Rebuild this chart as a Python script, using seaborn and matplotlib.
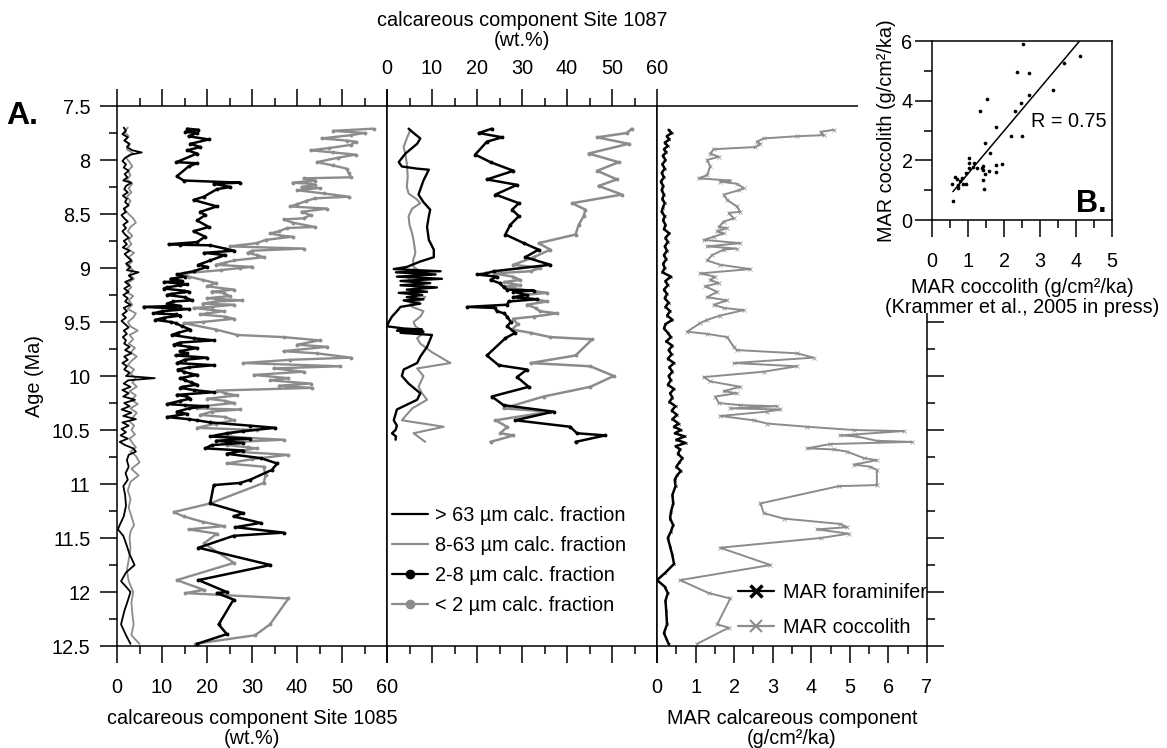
import numpy as np
import matplotlib
matplotlib.use("Agg")
import matplotlib.pyplot as plt
from matplotlib.lines import Line2D
from matplotlib.patches import Rectangle
from matplotlib.ticker import MultipleLocator, FuncFormatter
import seaborn as sns

sns.set_style("ticks")
plt.rcParams['font.family'] = ['Liberation Sans', 'DejaVu Sans']
plt.rcParams['font.size'] = 14
for key in ('text.color', 'axes.labelcolor', 'xtick.color', 'ytick.color', 'axes.edgecolor'):
    plt.rcParams[key] = 'black'

GREY = '#8c8c8c'

# ---- Site 1085 (age Ma, wt.%) ----
s1085_gt63 = [(7.70,1.5),(7.73,2.0),(7.76,1.2),(7.79,2.4),(7.82,1.6),(7.85,2.8),(7.88,2.2),(7.91,3.4),(7.93,5.5),(7.95,3.0),
    (7.98,1.8),(8.01,1.2),(8.04,2.0),(8.07,1.5),(8.10,2.6),(8.13,1.7),(8.16,2.3),(8.19,1.4),(8.21,3.2),(8.24,2.0),(8.27,1.6),
    (8.30,2.4),(8.33,1.3),(8.36,2.2),(8.39,1.8),(8.42,2.6),(8.45,1.5),(8.48,2.0),(8.51,1.0),(8.54,1.6),(8.57,2.4),(8.60,1.4),
    (8.63,2.0),(8.66,1.2),(8.69,1.8),(8.72,2.6),(8.75,1.5),(8.78,2.2),(8.81,1.3),(8.84,2.8),(8.87,1.7),(8.90,2.4),(8.93,3.2),
    (8.96,2.0),(8.99,3.0),(9.02,2.2),(9.04,4.8),(9.07,2.6),(9.10,3.4),(9.13,1.8),(9.16,2.8),(9.19,1.6),(9.22,2.6),(9.25,1.4),
    (9.28,2.4),(9.31,1.8),(9.34,3.0),(9.37,1.5),(9.40,2.2),(9.43,1.2),(9.46,2.0),(9.49,1.0),(9.52,1.8),(9.55,2.6),(9.58,1.5),
    (9.61,2.2),(9.64,1.3),(9.67,2.0),(9.70,1.6),(9.73,2.8),(9.76,1.8),(9.79,3.2),(9.82,1.6),(9.85,2.4),(9.88,1.2),(9.91,2.2),
    (9.94,1.6),(9.97,2.8),(10.00,2.0),(10.02,8.4),(10.04,2.5),(10.07,1.5),(10.10,3.0),(10.13,1.2),(10.16,2.6),(10.19,1.4),
    (10.22,4.0),(10.25,1.6),(10.28,2.8),(10.31,1.0),(10.34,3.2),(10.37,1.4),(10.40,4.2),(10.43,1.2),(10.46,2.6),(10.49,1.0),
    (10.52,2.0),(10.55,0.8),(10.58,2.4),(10.61,0.6),(10.64,1.8),(10.67,3.6),(10.70,4.2),(10.73,2.6),(10.78,2.2),(10.84,2.6),
    (10.90,1.9),(10.96,2.4),(11.02,1.4),(11.10,1.8),(11.20,2.0),(11.30,1.5),(11.38,0.6),(11.42,0.2),(11.48,1.4),(11.55,2.0),
    (11.65,2.8),(11.75,3.9),(11.82,2.0),(11.90,0.9),(11.96,2.2),(12.00,3.0),(12.08,2.4),(12.18,1.6),(12.30,0.9),(12.40,2.0),
    (12.48,3.0)]
s1085_8_63 = [(7.70,2.4),(7.74,1.6),(7.78,2.6),(7.82,1.8),(7.86,2.8),(7.90,2.2),(7.94,3.6),(7.98,2.0),(8.02,2.8),(8.06,3.4),
    (8.10,2.4),(8.14,3.0),(8.18,2.2),(8.22,3.4),(8.26,2.6),(8.30,3.2),(8.34,2.2),(8.38,3.0),(8.42,2.4),(8.46,1.6),(8.50,2.6),
    (8.54,3.6),(8.58,4.2),(8.62,3.0),(8.66,2.4),(8.70,3.4),(8.74,2.6),(8.78,3.2),(8.82,2.2),(8.86,3.8),(8.90,2.6),(8.94,3.4),
    (8.98,2.2),(9.02,3.6),(9.06,2.8),(9.10,3.8),(9.14,2.4),(9.18,3.2),(9.22,2.0),(9.26,3.6),(9.30,2.6),(9.34,3.4),(9.38,2.4),
    (9.42,4.2),(9.46,3.6),(9.50,2.4),(9.54,3.0),(9.58,4.6),(9.62,2.8),(9.66,3.6),(9.70,2.6),(9.74,4.0),(9.78,3.0),(9.82,4.4),
    (9.86,3.2),(9.90,2.4),(9.94,3.8),(9.98,3.0),(10.02,4.2),(10.06,3.4),(10.10,4.4),(10.14,2.8),(10.18,4.2),(10.22,3.2),
    (10.26,4.6),(10.30,3.0),(10.34,4.4),(10.38,3.6),(10.42,2.8),(10.46,3.8),(10.50,3.2),(10.54,4.0),(10.58,2.8),(10.62,3.4),
    (10.66,4.2),(10.70,3.0),(10.74,4.2),(10.80,5.0),(10.86,3.2),(10.92,4.8),(10.98,3.0),(11.06,2.4),(11.14,3.0),(11.22,2.6),
    (11.30,3.2),(11.38,3.8),(11.44,3.0),(11.50,2.8),(11.60,3.0),(11.70,2.6),(11.80,2.2),(11.90,2.6),(12.00,3.6),(12.10,3.2),
    (12.20,3.4),(12.30,3.7),(12.40,3.2),(12.48,5.0)]
s1085_2_8 = [(7.71,15.6),(7.72,18.1),(7.74,15.2),(7.75,17.8),(7.78,15.9),(7.81,20.4),(7.85,16.3),(7.88,18.5),(7.91,15.6),
    (7.94,17.8),(8.02,13.2),(8.03,17.8),(8.06,15.9),(8.15,13.3),(8.19,14.8),(8.21,27.4),(8.22,21.5),(8.25,25.2),(8.27,22.2),
    (8.34,19.3),(8.37,17.0),(8.43,22.2),(8.48,18.5),(8.51,19.6),(8.56,17.8),(8.62,20.4),(8.66,17.0),(8.71,19.6),(8.76,17.8),
    (8.78,11.5),(8.785,14.1),(8.79,20.7),(8.82,24.0),(8.84,26.0),(8.86,19.3),(8.88,24.0),(8.93,20.7),(8.97,18.1),(8.99,20.0),
    (9.03,17.0),(9.06,13.3),(9.08,15.0),(9.10,11.9),(9.12,14.5),(9.13,10.4),(9.15,15.5),(9.16,14.1),(9.18,11.0),(9.19,10.4),
    (9.21,14.8),(9.22,15.9),(9.24,12.0),(9.25,11.1),(9.27,15.0),(9.30,16.7),(9.31,12.5),(9.33,11.1),(9.35,14.0),(9.36,5.9),
    (9.38,15.9),(9.40,10.0),(9.42,8.1),(9.43,13.0),(9.44,14.1),(9.46,10.5),(9.48,8.5),(9.50,12.0),(9.51,13.0),(9.54,14.5),
    (9.57,16.3),(9.60,13.5),(9.62,12.2),(9.65,17.0),(9.67,21.5),(9.69,14.0),(9.71,12.6),(9.73,16.0),(9.74,17.8),(9.77,14.0),
    (9.79,15.5),(9.81,13.0),(9.83,20.0),(9.85,15.0),(9.88,13.3),(9.90,21.5),(9.92,16.0),(9.94,13.5),(9.96,14.8),(9.98,16.5),
    (9.99,17.8),(10.02,14.0),(10.04,15.2),(10.06,16.5),(10.08,17.8),(10.10,14.5),(10.11,14.1),(10.13,17.0),(10.15,21.5),
    (10.175,13.3),(10.19,15.5),(10.21,16.3),(10.23,14.0),(10.26,11.1),(10.27,15.0),(10.28,20.0),(10.30,16.0),(10.33,13.3),
    (10.35,15.5),(10.38,11.1),(10.40,16.0),(10.41,17.8),(10.43,20.7),(10.46,29.6),(10.48,35.2),(10.51,28.0),(10.53,24.4),
    (10.56,20.7),(10.58,29.6),(10.60,22.0),(10.62,28.0),(10.64,21.0),(10.67,19.6),(10.69,28.0),(10.72,24.4),(10.76,31.9),
    (10.81,35.6),(10.87,34.4),(10.96,29.6),(10.99,27.4),(11.01,21.5),(11.18,20.7),(11.27,28.1),(11.30,25.9),(11.36,31.9),
    (11.40,26.3),(11.45,37.0),(11.48,25.9),(11.59,18.1),(11.75,34.1),(11.89,18.1),(12.00,24.4),(12.01,22.2),(12.07,25.9),
    (12.30,22.6),(12.39,24.4),(12.48,17.8)]
s1085_lt2 = [(7.71,57.0),(7.73,48.0),(7.75,55.0),(7.77,52.0),(7.80,45.5),(7.82,51.0),(7.83,53.0),(7.86,52.0),(7.89,47.0),
    (7.91,43.0),(7.93,48.0),(7.95,53.0),(7.98,49.0),(8.02,44.4),(8.05,48.0),(8.08,51.0),(8.12,51.5),(8.16,52.0),(8.17,41.5),
    (8.19,44.0),(8.21,39.0),(8.22,43.0),(8.23,44.0),(8.25,41.0),(8.26,45.0),(8.28,40.0),(8.31,46.0),(8.34,51.5),(8.355,44.0),
    (8.38,42.0),(8.41,40.0),(8.43,38.5),(8.45,46.7),(8.48,41.0),(8.51,43.0),(8.54,41.5),(8.55,37.0),(8.58,39.0),(8.62,44.0),
    (8.63,37.8),(8.66,36.0),(8.68,34.0),(8.70,36.5),(8.71,39.0),(8.74,33.0),(8.77,31.0),(8.80,25.0),(8.82,41.5),(8.84,30.0),
    (8.86,29.0),(8.88,31.0),(8.90,32.6),(8.93,26.0),(8.95,24.0),(8.97,22.0),(8.99,30.0),(9.00,27.4),(9.02,23.0),(9.05,14.8),
    (9.08,16.0),(9.11,19.0),(9.14,22.0),(9.17,20.0),(9.20,26.0),(9.22,21.0),(9.23,23.7),(9.26,25.0),(9.28,20.0),(9.30,27.8),
    (9.31,22.0),(9.33,19.0),(9.34,26.0),(9.36,21.0),(9.37,17.0),(9.40,23.7),(9.42,20.0),(9.43,18.5),(9.45,24.0),(9.47,26.0),
    (9.50,19.0),(9.51,14.8),(9.57,22.0),(9.62,26.7),(9.64,37.0),(9.67,45.0),(9.71,40.0),(9.73,46.7),(9.77,37.0),(9.79,44.4),
    (9.83,52.0),(9.85,38.5),(9.88,28.0),(9.91,49.6),(9.93,34.8),(9.96,41.5),(9.99,30.4),(10.02,38.0),(10.04,34.0),(10.07,43.0),
    (10.09,36.0),(10.11,43.3),(10.135,22.2),(10.16,24.0),(10.18,26.7),(10.21,20.0),(10.23,24.0),(10.25,26.0),(10.28,19.0),
    (10.30,17.8),(10.31,27.4),(10.33,21.0),(10.36,18.5),(10.38,24.0),(10.41,26.0),(10.44,22.0),(10.48,17.8),(10.50,31.0),
    (10.53,25.0),(10.55,22.2),(10.57,28.0),(10.59,37.0),(10.61,27.0),(10.64,24.4),(10.66,29.0),(10.67,31.0),(10.70,26.0),
    (10.73,38.0),(10.77,30.0),(10.81,24.4),(10.84,32.6),(10.92,33.0),(10.99,32.6),(11.18,20.7),(11.26,12.6),(11.30,14.8),
    (11.35,19.0),(11.39,23.7),(11.42,15.9),(11.46,22.2),(11.55,19.3),(11.73,26.0),(11.89,13.3),(11.98,19.3),(12.01,15.2),
    (12.06,38.1),(12.30,34.0),(12.40,30.7),(12.48,17.4)]

# ---- Site 1087 (age Ma, wt.%) ----
s1087_gt63 = [(7.71,4.8),(7.75,5.9),(7.80,7.4),(7.85,6.7),(7.94,4.1),(8.02,2.6),(8.06,3.3),(8.08,6.7),(8.09,9.3),(8.19,8.1),
    (8.32,7.0),(8.39,8.1),(8.46,9.6),(8.52,9.3),(8.62,8.9),(8.74,9.3),(8.83,10.4),(8.90,10.4),(8.94,7.4),(8.99,4.4),(9.01,1.5),
    (9.03,11.9),(9.04,2.0),(9.06,10.8),(9.08,2.2),(9.10,12.2),(9.12,3.0),(9.14,9.6),(9.16,3.0),(9.18,11.1),(9.20,4.4),
    (9.22,8.9),(9.23,2.6),(9.25,7.8),(9.27,4.4),(9.29,8.1),(9.30,3.7),(9.33,7.4),(9.36,3.0),(9.40,2.2),(9.45,1.1),(9.50,0.4),
    (9.54,0.0),(9.56,3.7),(9.57,7.8),(9.58,2.2),(9.59,8.1),(9.60,3.0),(9.62,10.0),(9.73,8.9),(9.82,7.4),(9.88,6.7),(9.94,3.7),
    (10.00,3.3),(10.07,4.8),(10.16,7.4),(10.22,6.7),(10.31,2.2),(10.41,1.5),(10.46,2.2),(10.50,1.9),(10.53,1.1),(10.56,2.0),
    (10.59,1.9)]
s1087_8_63 = [(7.72,5.2),(7.80,4.4),(7.88,3.7),(7.95,4.1),(8.03,4.4),(8.15,4.6),(8.25,4.4),(8.31,4.8),(8.36,6.5),(8.40,7.4),
    (8.45,5.6),(8.52,4.8),(8.60,5.0),(8.68,5.6),(8.77,6.0),(8.86,6.3),(8.93,5.8),(8.99,5.9),(9.03,7.4),(9.05,8.9),(9.08,4.4),
    (9.11,5.2),(9.14,7.4),(9.16,8.1),(9.20,5.2),(9.23,5.9),(9.27,8.5),(9.30,7.4),(9.33,5.2),(9.36,5.6),(9.40,8.1),(9.45,7.4),
    (9.50,5.9),(9.54,6.3),(9.57,7.4),(9.60,8.1),(9.65,6.7),(9.70,7.4),(9.78,10.0),(9.88,14.1),(9.93,6.7),(10.00,8.1),
    (10.10,7.0),(10.16,7.8),(10.22,8.9),(10.30,5.6),(10.41,3.3),(10.47,12.6),(10.53,5.9),(10.61,8.5)]
s1087_2_8 = [(7.71,23.3),(7.75,20.4),(7.79,25.6),(7.83,22.2),(7.95,19.6),(8.02,23.0),(8.10,28.1),(8.18,22.2),(8.23,28.9),
    (8.32,24.1),(8.40,29.3),(8.46,27.8),(8.52,29.3),(8.60,27.4),(8.69,26.3),(8.77,30.4),(8.83,33.7),(8.90,30.7),(8.97,36.3),
    (9.03,23.7),(9.05,22.0),(9.06,20.0),(9.08,24.4),(9.11,23.0),(9.14,25.0),(9.18,26.0),(9.20,26.7),(9.21,32.6),(9.22,28.1),
    (9.25,31.0),(9.27,28.1),(9.29,33.3),(9.31,27.0),(9.34,26.7),(9.36,17.8),(9.37,24.0),(9.40,24.4),(9.42,26.0),(9.45,26.7),
    (9.50,27.5),(9.54,26.7),(9.60,28.5),(9.65,26.3),(9.81,22.2),(9.90,24.8),(9.94,31.1),(10.01,28.9),(10.10,31.5),
    (10.19,23.3),(10.27,25.9),(10.33,37.0),(10.41,28.5),(10.47,40.7),(10.53,42.2),(10.55,48.5),(10.61,41.9)]
s1087_lt2 = [(7.71,54.4),(7.75,53.3),(7.79,46.7),(7.85,53.7),(7.94,44.8),(8.02,51.5),(8.10,46.7),(8.18,51.1),(8.24,47.0),
    (8.32,52.2),(8.40,41.1),(8.46,44.1),(8.52,43.7),(8.60,42.6),(8.69,41.9),(8.77,33.7),(8.83,36.3),(8.90,32.6),(8.97,28.1),
    (9.00,34.1),(9.03,31.9),(9.05,23.7),(9.08,28.0),(9.11,29.6),(9.13,26.0),(9.16,29.6),(9.17,25.9),(9.20,30.0),(9.23,35.6),
    (9.25,30.0),(9.27,28.9),(9.29,33.0),(9.31,35.6),(9.34,31.1),(9.37,33.0),(9.40,34.0),(9.42,37.8),(9.45,32.6),(9.47,28.1),
    (9.52,29.0),(9.57,27.8),(9.60,31.9),(9.64,36.3),(9.66,45.6),(9.81,41.9),(9.88,31.9),(9.91,45.2),(10.00,50.4),(10.10,45.2),
    (10.19,34.8),(10.30,25.9),(10.33,36.3),(10.41,24.1),(10.47,26.7),(10.53,25.2),(10.55,28.1),(10.61,23.0)]

# ---- MAR (age Ma, g/cm2/ka) ----
mar_foram = [(7.72,0.30),(7.75,0.38),(7.78,0.25),(7.81,0.32),(7.84,0.20),(7.87,0.28),(7.90,0.18),(7.93,0.24),(7.96,0.15),
    (8.00,0.22),(8.04,0.14),(8.08,0.20),(8.12,0.12),(8.16,0.18),(8.20,0.10),(8.24,0.16),(8.28,0.12),(8.32,0.18),(8.36,0.14),
    (8.40,0.20),(8.44,0.15),(8.48,0.12),(8.52,0.20),(8.56,0.16),(8.60,0.22),(8.64,0.18),(8.68,0.32),(8.72,0.22),(8.76,0.28),
    (8.80,0.20),(8.84,0.26),(8.88,0.18),(8.92,0.24),(8.96,0.16),(9.00,0.20),(9.04,0.14),(9.08,0.36),(9.12,0.22),(9.16,0.28),
    (9.20,0.18),(9.24,0.26),(9.28,0.20),(9.32,0.30),(9.36,0.22),(9.40,0.34),(9.44,0.26),(9.48,0.40),(9.52,0.22),(9.56,0.18),
    (9.60,0.28),(9.64,0.36),(9.68,0.24),(9.72,0.40),(9.76,0.30),(9.80,0.38),(9.84,0.28),(9.88,0.44),(9.92,0.32),(9.96,0.40),
    (10.00,0.30),(10.04,0.36),(10.08,0.28),(10.12,0.44),(10.16,0.34),(10.20,0.40),(10.24,0.32),(10.28,0.48),(10.32,0.38),
    (10.36,0.52),(10.40,0.40),(10.44,0.56),(10.47,0.44),(10.50,0.62),(10.53,0.46),(10.56,0.72),(10.59,0.50),(10.62,0.74),
    (10.65,0.48),(10.68,0.60),(10.72,0.54),(10.76,0.66),(10.80,0.58),(10.84,0.50),(10.88,0.62),(10.92,0.52),(10.96,0.46),
    (11.02,0.48),(11.10,0.40),(11.18,0.42),(11.26,0.36),(11.32,0.34),(11.38,0.42),(11.44,0.36),(11.50,0.28),(11.58,0.34),
    (11.66,0.40),(11.74,0.44),(11.82,0.22),(11.89,0.00),(11.95,0.20),(12.01,0.28),(12.08,0.22),(12.18,0.24),(12.30,0.26),
    (12.38,0.18),(12.48,0.30)]
mar_cocco = [(7.72,4.58),(7.74,4.24),(7.77,4.32),(7.78,3.63),(7.80,2.77),(7.83,2.59),(7.85,2.68),(7.88,2.55),(7.90,1.47),
    (7.94,1.38),(7.97,1.60),(8.00,1.30),(8.06,1.38),(8.14,1.30),(8.17,1.08),(8.19,1.90),(8.20,1.64),(8.22,2.07),(8.26,2.25),
    (8.28,2.12),(8.32,1.73),(8.37,1.82),(8.43,2.07),(8.48,2.16),(8.49,1.86),(8.54,1.99),(8.57,1.73),(8.62,1.60),(8.63,1.82),
    (8.66,1.56),(8.68,1.73),(8.71,1.47),(8.74,1.21),(8.77,2.16),(8.80,1.30),(8.82,2.07),(8.83,1.73),(8.88,1.43),(8.93,1.30),
    (8.97,1.64),(9.01,2.42),(9.05,1.12),(9.08,1.50),(9.11,1.38),(9.14,1.60),(9.17,1.25),(9.22,1.56),(9.27,1.30),(9.30,1.82),
    (9.34,1.47),(9.37,1.73),(9.39,2.25),(9.44,1.64),(9.48,1.30),(9.51,1.12),(9.59,0.78),(9.61,1.30),(9.64,1.82),(9.73,1.99),
    (9.76,2.07),(9.79,3.63),(9.83,4.06),(9.88,1.99),(9.91,3.63),(9.96,2.77),(10.01,1.21),(10.05,1.38),(10.10,2.16),
    (10.14,1.73),(10.16,2.07),(10.19,1.51),(10.25,1.60),(10.27,2.16),(10.28,3.11),(10.30,1.90),(10.31,3.20),(10.33,2.85),
    (10.37,1.64),(10.41,2.51),(10.44,2.85),(10.47,3.89),(10.50,5.10),(10.51,6.40),(10.55,4.75),(10.56,5.19),(10.60,5.70),
    (10.61,6.61),(10.63,4.49),(10.67,3.89),(10.68,4.58),(10.70,4.93),(10.76,5.36),(10.78,5.70),(10.82,5.10),(10.84,5.53),
    (10.87,5.70),(11.01,5.70),(11.02,4.71),(11.18,2.68),(11.27,2.77),(11.32,3.28),(11.37,4.75),(11.40,4.93),(11.42,4.15),
    (11.46,4.97),(11.50,4.24),(11.59,1.64),(11.75,2.94),(11.89,0.60),(12.01,1.34),(12.06,1.90),(12.30,1.56),(12.33,1.86),
    (12.48,1.04)]

# ---- inset B: MAR coccolith (Krammer et al.) vs this study ----
krammer_x = [2.54,4.10,2.37,2.70,3.66,1.52,1.32,2.31,2.48,2.70,3.37,1.78,2.19,2.49,1.47,1.62,1.02,1.02,1.17,1.03,1.24,1.42,
    1.43,1.48,1.42,1.45,1.57,1.79,1.95,1.79,0.94,0.82,0.70,0.64,0.55,0.77,0.73,0.86,0.94,0.73,0.58,1.38,1.14]
this_y = [5.90,5.51,4.96,4.94,5.25,4.07,3.64,3.64,3.93,4.20,4.36,3.11,2.83,2.82,2.59,2.23,2.08,1.90,1.90,1.75,1.75,1.81,
    1.69,1.54,1.34,1.05,1.65,1.84,1.88,1.61,1.56,1.40,1.36,1.45,1.22,1.31,1.16,1.21,1.21,1.06,0.64,1.75,1.79]
fit_x = [0.58, 4.10]
fit_y = [0.95, 6.00]

W, H = 1167, 748
fig = plt.figure(figsize=(W / 100, H / 100), dpi=100)


def box(x0, y0, x1, y1):
    return [x0 / W, 1 - y1 / H, (x1 - x0) / W, (y1 - y0) / H]


def trace(ax, pairs, color, lw, marker=None, ms=0, mew=0):
    a = np.array(pairs)
    sns.lineplot(x=a[:, 1], y=a[:, 0], sort=False, estimator=None, orient='y', ax=ax,
                 color=color, lw=lw, marker=marker, markersize=ms, markeredgewidth=mew,
                 markeredgecolor=color, markerfacecolor=color)


ax1 = fig.add_axes(box(117, 106, 387, 646))
ax2 = fig.add_axes(box(387, 106, 657, 646))
ax3 = fig.add_axes(box(657, 106, 927, 646))

trace(ax1, s1085_8_63, GREY, 1.3)
trace(ax1, s1085_gt63, 'black', 1.3)
trace(ax1, s1085_lt2, GREY, 1.7, 'o', 2.8)
trace(ax1, s1085_2_8, 'black', 1.8, 'o', 2.8)

trace(ax2, s1087_8_63, GREY, 1.5)
trace(ax2, s1087_gt63, 'black', 1.7)
trace(ax2, s1087_lt2, GREY, 1.8, 'o', 2.8)
trace(ax2, s1087_2_8, 'black', 1.8, 'o', 2.8)

trace(ax3, mar_cocco, GREY, 1.4, 'x', 2.2, 0.5)
trace(ax3, mar_foram, 'black', 1.8, 'x', 1.6, 0.5)

fmt = FuncFormatter(lambda v, p: '%g' % v)
for ax in (ax1, ax2, ax3):
    ax.set_ylim(12.5, 7.5)
    ax.set_xlabel('')
    ax.set_ylabel('')
    ax.yaxis.set_major_locator(MultipleLocator(0.5))
    ax.yaxis.set_minor_locator(MultipleLocator(0.25))
    ax.yaxis.set_major_formatter(fmt)
    for s in ax.spines.values():
        s.set_linewidth(1.1)
    ax.tick_params(which='both', direction='out', width=1.1, labelsize=14.3)
    ax.tick_params(which='major', length=12)
    ax.tick_params(which='minor', length=6)

ax1.set_xlim(0, 60)
ax2.set_xlim(0, 60)
ax3.set_xlim(0, 7)
for ax in (ax1, ax2):
    ax.xaxis.set_major_locator(MultipleLocator(10))
    ax.xaxis.set_minor_locator(MultipleLocator(5))
ax3.xaxis.set_major_locator(MultipleLocator(1))
ax3.xaxis.set_minor_locator(MultipleLocator(0.5))

ax1.tick_params(axis='y', which='both', left=True, right=False, labelleft=True, pad=7)
ax1.tick_params(axis='x', which='both', bottom=True, top=True, labelbottom=True, labeltop=False, pad=11)
ax2.tick_params(axis='y', which='both', left=False, right=False, labelleft=False)
ax2.tick_params(axis='x', which='both', bottom=True, top=True, labelbottom=False, labeltop=True, pad=8)
ax3.tick_params(axis='y', which='both', left=False, right=True, labelleft=False, labelright=False)
ax3.tick_params(axis='x', which='both', bottom=True, top=False, labelbottom=True, labeltop=False, pad=11)

TXT = 14.3
fig.text(35 / W, 1 - 376 / H, 'Age (Ma)', rotation=90, ha='center', va='center', fontsize=TXT)
fig.text(22 / W, 1 - 116 / H, 'A.', ha='center', va='center', fontsize=23, fontweight='bold')
fig.text(252 / W, 1 - 718 / H, 'calcareous component Site 1085', ha='center', va='center', fontsize=TXT)
fig.text(252 / W, 1 - 739 / H, '(wt.%)', ha='center', va='center', fontsize=TXT)
fig.text(522 / W, 1 - 21 / H, 'calcareous component Site 1087', ha='center', va='center', fontsize=TXT)
fig.text(522 / W, 1 - 41 / H, '(wt.%)', ha='center', va='center', fontsize=TXT)
fig.text(792 / W, 1 - 718 / H, 'MAR calcareous component', ha='center', va='center', fontsize=TXT)
fig.text(792 / W, 1 - 739 / H, '(g/cm²/ka)', ha='center', va='center', fontsize=TXT)

frac_handles = [
    Line2D([], [], color='black', lw=1.6),
    Line2D([], [], color=GREY, lw=1.6),
    Line2D([], [], color='black', lw=1.6, marker='o', ms=6),
    Line2D([], [], color=GREY, lw=1.6, marker='o', ms=6),
]
frac_labels = ['> 63 µm calc. fraction', '8-63 µm calc. fraction', '2-8 µm calc. fraction', '< 2 µm calc. fraction']
ax2.legend(frac_handles, frac_labels, loc='upper left', bbox_to_anchor=(392 / W, 1 - 506 / H),
           bbox_transform=fig.transFigure, frameon=False, fontsize=TXT, borderpad=0, borderaxespad=0,
           handlelength=1.8, handletextpad=0.35, labelspacing=0.55)

mar_handles = [
    Line2D([], [], color='black', lw=1.6, marker='x', ms=9, mew=2.5),
    Line2D([], [], color=GREY, lw=1.6, marker='x', ms=9, mew=1.5),
]
ax3.legend(mar_handles, ['MAR foraminifer', 'MAR coccolith'], loc='upper left',
           bbox_to_anchor=(738 / W, 1 - 583 / H), bbox_transform=fig.transFigure, frameon=False,
           fontsize=TXT, borderpad=0, borderaxespad=0, handlelength=1.8, handletextpad=0.45,
           labelspacing=0.8)

# white panel behind the inset hides the corner of the MAR frame
fig.add_artist(Rectangle((858 / W, 1 - 313 / H), 1 - 858 / W, 313 / H, transform=fig.transFigure,
                         facecolor='white', edgecolor='none', zorder=1))

ax4 = fig.add_axes(box(932, 41, 1112, 220))
ax4.set_zorder(2)
sns.scatterplot(x=krammer_x, y=this_y, ax=ax4, color='black', s=7, linewidth=0)
sns.lineplot(x=fit_x, y=fit_y, ax=ax4, color='black', lw=1.1)
ax4.set_xlim(0, 5)
ax4.set_ylim(0, 6)
ax4.xaxis.set_major_locator(MultipleLocator(1))
ax4.xaxis.set_minor_locator(MultipleLocator(0.5))
ax4.yaxis.set_major_locator(MultipleLocator(2))
ax4.yaxis.set_minor_locator(MultipleLocator(1))
for s in ax4.spines.values():
    s.set_linewidth(1.1)
ax4.tick_params(which='both', direction='out', width=1.1, labelsize=TXT, top=False, right=False)
ax4.tick_params(which='major', length=12)
ax4.tick_params(which='minor', length=6)
ax4.tick_params(axis='x', pad=11)
ax4.tick_params(axis='y', pad=2)
ax4.set_ylabel('MAR coccolith (g/cm²/ka)', fontsize=TXT, labelpad=4)
ax4.set_xlabel('MAR coccolith (g/cm²/ka)\n(Krammer et al., 2005 in press)', fontsize=TXT, labelpad=5,
               linespacing=1.05)
ax4.text(0.55, 0.55, 'R = 0.75', transform=ax4.transAxes, fontsize=TXT, ha='left', va='center')
ax4.text(0.97, 0.09, 'B.', transform=ax4.transAxes, fontsize=22, fontweight='bold', ha='right', va='center')

fig.savefig('out.png', dpi=100)
